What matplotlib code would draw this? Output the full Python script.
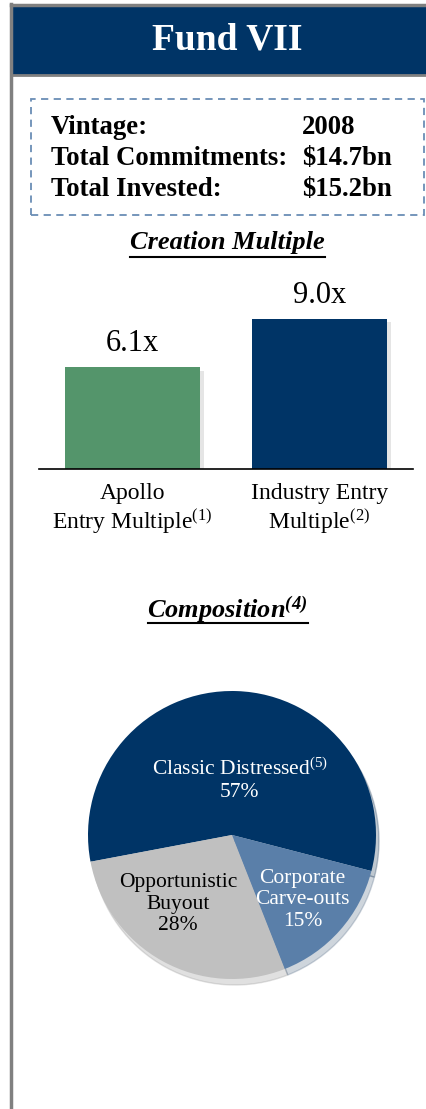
import matplotlib
matplotlib.use("Agg")
import matplotlib.pyplot as plt
from matplotlib.patches import Rectangle
from matplotlib.lines import Line2D

W, H = 426, 1109
NAVY = "#003466"
GREEN = "#54956b"
STEEL = "#5a7fa9"
LGRAY = "#c0c0c0"

plt.rcParams["font.family"] = ["Liberation Serif", "DejaVu Serif"]
plt.rcParams["mathtext.fontset"] = "custom"
plt.rcParams["mathtext.rm"] = "Liberation Serif"
plt.rcParams["mathtext.it"] = "Liberation Serif:italic"
plt.rcParams["mathtext.bf"] = "Liberation Serif:bold"
plt.rcParams["mathtext.bfit"] = "Liberation Serif:bold:italic"

# data
info_labels = ["Vintage:", "Total Commitments:", "Total Invested:"]
info_values = ["2008", "$14.7bn", "$15.2bn"]

bar_labels = ["Apollo\nEntry Multiple$^{(1)}$", "Industry Entry\nMultiple$^{(2)}$"]
bar_values = [6.1, 9.0]
bar_colors = [GREEN, NAVY]

pie_labels = ["Classic Distressed$^{(5)}$\n57%", "Opportunistic\nBuyout\n28%",
              "Corporate\nCarve-outs\n15%"]
pie_values = [57, 28, 15]
pie_colors = [NAVY, LGRAY, STEEL]
pie_text_colors = ["white", "black", "white"]


def fx(x):
    return x / W


def fy(y):
    return 1 - y / H


fig = plt.figure(figsize=(W / 100, H / 100), dpi=100)

# frame and header
fig.add_artist(Rectangle((fx(13), fy(75)), fx(W - 13), 69 / H, transform=fig.transFigure,
                         facecolor=NAVY, edgecolor="none"))
fig.add_artist(Line2D([fx(11), 1], [fy(5), fy(5)], transform=fig.transFigure, color="#808080", lw=2.5))
fig.add_artist(Line2D([fx(11), 1], [fy(75), fy(75)], transform=fig.transFigure, color="#808080", lw=2))
fig.add_artist(Line2D([fx(11), fx(11)], [fy(4), 0], transform=fig.transFigure, color="#808080", lw=2.5))
fig.text(fx(227), fy(40), "Fund VII", color="white", fontsize=27, fontweight="bold",
         ha="center", va="center")

# info box
fig.add_artist(Rectangle((fx(31), fy(215)), fx(393), 116 / H, transform=fig.transFigure,
                         facecolor="none", edgecolor="#6a8db5", lw=1.3, linestyle=(0, (4, 3))))
for i, (lab, val) in enumerate(zip(info_labels, info_values)):
    yy = fy(127 + i * 31.5)
    fig.text(fx(51), yy, lab, fontsize=19.3, fontweight="bold", ha="left", va="center")
    fig.text(fx(302), yy, val, fontsize=19.3, fontweight="bold", ha="left", va="center")

# bar chart
fig.text(fx(227), fy(243), "Creation Multiple", fontsize=19, fontweight="bold", style="italic",
         ha="center", va="center")
fig.add_artist(Line2D([fx(130), fx(325)], [fy(257), fy(257)], transform=fig.transFigure,
                      color="black", lw=1.5))

ax = fig.add_axes([fx(39), fy(469), fx(374), 200 / H])
xs = range(len(bar_values))
# soft shadow
ax.bar([x + 0.02 for x in xs], bar_values, width=0.72, bottom=-0.2, color="#aaaaaa", alpha=0.3, zorder=1)
ax.bar(xs, bar_values, width=0.72, color=bar_colors, zorder=2)
for x, v in zip(xs, bar_values):
    ax.text(x, v + 0.55, f"{v:.1f}x", ha="center", va="bottom", fontsize=22)
ax.set_xlim(-0.5, 1.5)
ax.set_ylim(0, 12)
for s in ["top", "right", "left"]:
    ax.spines[s].set_visible(False)
ax.spines["bottom"].set_linewidth(1.2)
ax.set_yticks([])
ax.set_xticks(list(xs), bar_labels, fontsize=17, linespacing=1.15)
ax.tick_params(axis="x", length=0, pad=10)
ax.patch.set_alpha(0)

# pie chart
fig.text(fx(227), fy(610), "Composition$^{\\mathbfit{(4)}}$", fontsize=19, fontweight="bold",
         style="italic", ha="center", va="center")
fig.add_artist(Line2D([fx(148), fx(308)], [fy(623), fy(623)], transform=fig.transFigure,
                      color="black", lw=1.5))

R = 144
half = R * 1.25
pax = fig.add_axes([fx(232 - half), fy(835 + half), fx(2 * half), 2 * half / H])
wedges, texts = pax.pie(pie_values, colors=pie_colors, startangle=-14.5, counterclock=True,
                        radius=1.0, wedgeprops=dict(edgecolor="none"),
                        shadow=dict(ox=0.015, oy=-0.03, shade=0.3, alpha=0.25))
pax.set_xlim(-1.25, 1.25)
pax.set_ylim(-1.25, 1.25)
pax.set_aspect("equal")
pax.axis("off")

label_pos = [(0.055, 0.38), (-0.375, -0.48), (0.49, -0.45)]
for lab, (px, py), c in zip(pie_labels, label_pos, pie_text_colors):
    pax.text(px, py, lab, ha="center", va="center", color=c, fontsize=15.5, linespacing=1.2)

fig.savefig("out.png", dpi=100)
